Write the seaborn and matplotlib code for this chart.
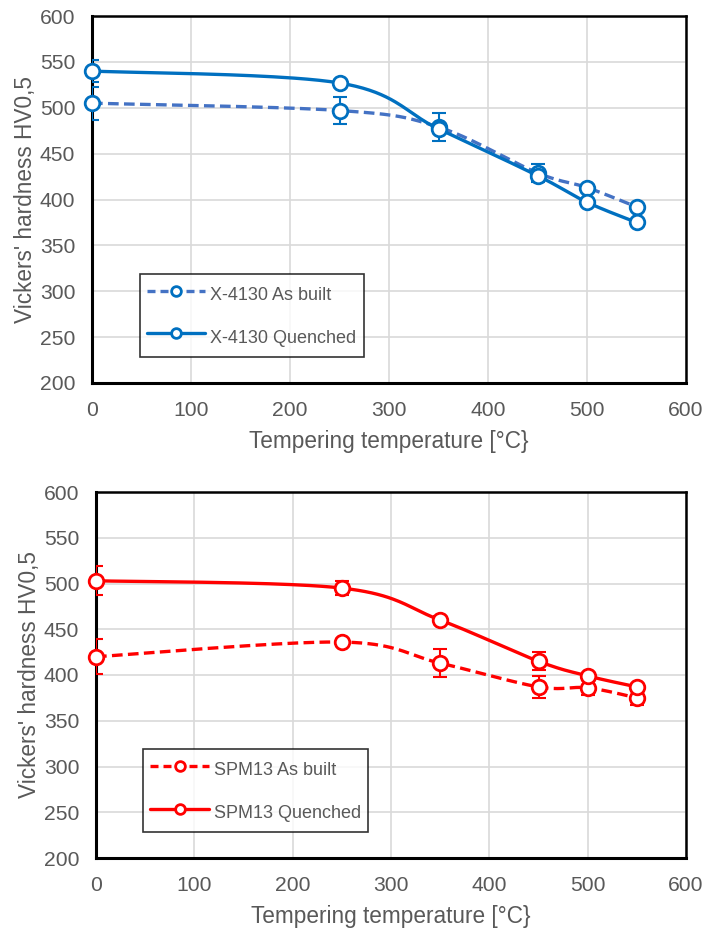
import numpy as np
import pandas as pd
import matplotlib
matplotlib.use("Agg")
import matplotlib.pyplot as plt
import seaborn as sns
from matplotlib.ticker import MultipleLocator
from matplotlib.lines import Line2D

sns.set_theme(style="white")
plt.rcParams['font.family'] = ['Liberation Sans', 'DejaVu Sans']

# ---- data ----
temps = [0, 250, 350, 450, 500, 550]

x4130_asbuilt = [505, 497, 479, 429, 413, 392]
x4130_asbuilt_err = [18, 15, 15, 10, 3, 3]
x4130_quenched = [540, 527, 477, 426, 397, 375]
x4130_quenched_err = [12, 3, 4, 6, 3, 4]

spm13_asbuilt = [420, 436, 413, 387, 386, 375]
spm13_asbuilt_err = [19, 3, 15, 12, 8, 8]
spm13_quenched = [503, 495, 460, 415, 399, 387]
spm13_quenched_err = [16, 8, 4, 10, 3, 3]

labels_top = ["X-4130 As built", "X-4130 Quenched"]
labels_bot = ["SPM13 As built", "SPM13 Quenched"]

xlabel = "Tempering temperature [°C}"
ylabel = "Vickers' hardness HV0,5"

TXT = "#595959"
DASH = (3.2, 1.6)
LEG_DASH = (2.4, 1.5)


def smooth(ax, xs, ys, n=40):
    """Excel-like smoothed curve (Bezier, Catmull-Rom control points) in pixel space."""
    pts = ax.transData.transform(np.column_stack([xs, ys]))
    out = []
    m = len(pts)
    for i in range(m - 1):
        p0 = pts[i - 1] if i > 0 else pts[i]
        p1 = pts[i]
        p2 = pts[i + 1]
        p3 = pts[i + 2] if i + 2 < m else pts[i + 1]
        c1 = p1 + (p2 - p0) / 6.0
        c2 = p2 - (p3 - p1) / 6.0
        t = np.linspace(0, 1, n)[:, None]
        seg = ((1 - t) ** 3) * p1 + 3 * ((1 - t) ** 2) * t * c1 + 3 * (1 - t) * t ** 2 * c2 + t ** 3 * p2
        out.append(seg if i == 0 else seg[1:])
    out = np.vstack(out)
    d = ax.transData.inverted().transform(out)
    return d[:, 0], d[:, 1]


def draw_panel(ax, series, labels, colors, line_colors):
    ax.set_xlim(0, 600)
    ax.set_ylim(200, 600)
    ax.figure.canvas.draw()
    handles = []
    for (vals, err), lab, c, lc, ls in zip(series, labels, colors, line_colors, ["--", "-"]):
        df = pd.DataFrame({"T": temps, "H": vals})
        xs, ys = smooth(ax, np.array(temps, float), np.array(vals, float))
        kw = dict(dashes=DASH) if ls == "--" else {}
        lkw = dict(dashes=LEG_DASH) if ls == "--" else {}
        ax.plot(xs, ys, color=lc, lw=2.4, ls=ls, zorder=3, clip_on=False, **kw)
        ax.errorbar(temps, vals, yerr=err, fmt="none", ecolor=c, elinewidth=1.5,
                    capsize=5, capthick=1.5, zorder=4, clip_on=True)
        sns.scatterplot(data=df, x="T", y="H", ax=ax, marker="o", s=110,
                        facecolor="white", edgecolor=c, linewidth=2, zorder=5, clip_on=False)
        handles.append(Line2D([], [], color=lc, lw=2.4, ls=ls, marker="o", markersize=7,
                              markerfacecolor="white", markeredgecolor=c, markeredgewidth=2,
                              **lkw))
    ax.set_xlabel(xlabel, color=TXT, fontsize=16.3, labelpad=7)
    ax.set_ylabel(ylabel, color=TXT, fontsize=16.3, labelpad=2)
    ax.xaxis.set_major_locator(MultipleLocator(100))
    ax.xaxis.set_minor_locator(MultipleLocator(20))
    ax.yaxis.set_major_locator(MultipleLocator(50))
    ax.yaxis.set_minor_locator(MultipleLocator(10))
    ax.grid(True, which="major", color="#d9d9d9", lw=1.2, zorder=0)
    ax.set_axisbelow(True)
    ax.tick_params(axis="both", which="major", direction="inout", length=8, width=2,
                   colors="black", labelcolor=TXT, labelsize=15.2)
    ax.tick_params(axis="x", which="major", pad=9)
    ax.tick_params(axis="y", which="major", pad=8)
    ax.tick_params(axis="both", which="minor", direction="in", length=4, width=1.5, colors="black")
    ax.tick_params(top=False, right=False, which="both")
    for s in ["left", "bottom"]:
        ax.spines[s].set_color("black")
        ax.spines[s].set_linewidth(2.2)
    for s in ["top", "right"]:
        ax.spines[s].set_color("black")
        ax.spines[s].set_linewidth(1.8)
        ax.spines[s].set_visible(True)
    leg = ax.legend(handles, labels, loc="lower left", bbox_to_anchor=(0.08, 0.071),
                    fontsize=13.0, frameon=True, fancybox=False, edgecolor="black",
                    labelcolor=TXT, handlelength=3.25, handletextpad=0.27,
                    handleheight=1.8, labelspacing=0.95, borderpad=0.4, borderaxespad=0)
    leg.get_frame().set_linewidth(1.2)


fig = plt.figure(figsize=(7.06, 9.31), dpi=100)
ax1 = fig.add_axes([92 / 706, 1 - 383 / 931, (686 - 92) / 706, (383 - 16) / 931])
ax2 = fig.add_axes([96 / 706, 1 - 858 / 931, (686 - 96) / 706, (858 - 492) / 931])

draw_panel(ax1,
           [(x4130_asbuilt, x4130_asbuilt_err), (x4130_quenched, x4130_quenched_err)],
           labels_top, ["#0070C0", "#0070C0"], ["#4472C4", "#0070C0"])
draw_panel(ax2,
           [(spm13_asbuilt, spm13_asbuilt_err), (spm13_quenched, spm13_quenched_err)],
           labels_bot, ["#FF0000", "#FF0000"], ["#FF0000", "#FF0000"])

fig.savefig("out.png", dpi=100)
